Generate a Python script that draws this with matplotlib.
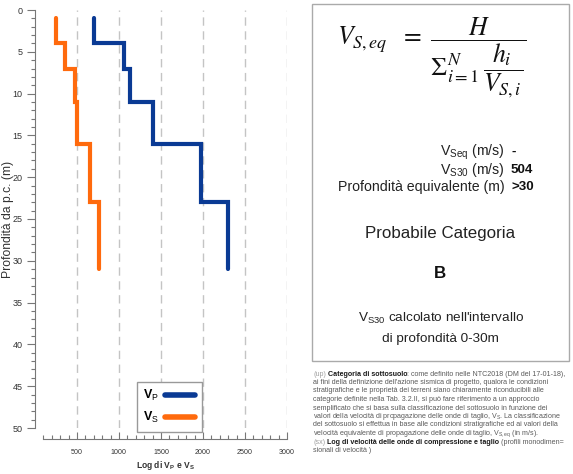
import numpy as np
import matplotlib
matplotlib.use('Agg')
import matplotlib.pyplot as plt
from matplotlib import font_manager as fm
from matplotlib.ticker import FixedLocator
from matplotlib.lines import Line2D
from matplotlib.patches import Rectangle

# ---------------- data ----------------
layer_top = [1, 4, 7, 11, 16, 23]
layer_bottom = [4, 7, 11, 16, 23, 31]
vp_values = [700, 1065, 1125, 1410, 1980, 2295]
vs_values = [255, 355, 475, 505, 660, 760]
x_major_ticks = [500, 1000, 1500, 2000, 2500, 3000]
x_minor_ticks = list(range(100, 3001, 100))
y_major_ticks = [0, 5, 10, 15, 20, 25, 30, 35, 40, 45, 50]
y_minor_ticks = list(range(0, 51, 1))
vseq_value = '-'
vs30_value = '504'
depth_eq_value = '>30'
category = 'B'

# ---------------- fonts ----------------
names = {f.name for f in fm.fontManager.ttflist}
if 'Liberation Sans Narrow' in names:
    FONT = 'Liberation Sans Narrow'
else:
    FONT = 'Liberation Sans'
plt.rcParams['font.family'] = [FONT, 'DejaVu Sans']
plt.rcParams['mathtext.fontset'] = 'custom'
plt.rcParams['mathtext.rm'] = FONT
plt.rcParams['mathtext.it'] = FONT + ':italic'
plt.rcParams['mathtext.bf'] = FONT + ':bold'

W, H = 573, 474
fig = plt.figure(figsize=(W / 100, H / 100), dpi=100)
renderer = fig.canvas.get_renderer()


def fx(x):
    return x / W


def fy(y):
    return 1 - y / H


def measure(s, size, **kw):
    t = fig.text(0, 0, s, fontsize=size, **kw)
    w = t.get_window_extent(renderer).width
    t.remove()
    return w


def fit_size(s, target, base=10, **kw):
    return base * target / measure(s, base, **kw)


# ---------------- left axes ----------------
ax = fig.add_axes([fx(35), fy(428), (287 - 35) / W, (428 - 10) / H])
ax.set_xlim(0, 3000)
ax.set_ylim(50, 0)

blue = '#0a3a94'
orange = '#ff6a0d'


def step_path(tops, bottoms, vals):
    xs, ys = [], []
    for t, b, v in zip(tops, bottoms, vals):
        xs += [v, v]
        ys += [t, b]
    return xs, ys


for vals, col in ((vp_values, blue), (vs_values, orange)):
    xs, ys = step_path(layer_top, layer_bottom, vals)
    ax.plot(xs, ys, color=col, lw=3.0, solid_capstyle='round',
            solid_joinstyle='miter', zorder=3)

ax.xaxis.set_major_locator(FixedLocator(x_major_ticks))
ax.xaxis.set_minor_locator(FixedLocator(x_minor_ticks))
ax.yaxis.set_major_locator(FixedLocator(y_major_ticks))
ax.yaxis.set_minor_locator(FixedLocator(y_minor_ticks))

ax.grid(axis='x', which='major', color='#c4c4c4', lw=1.0, ls=(0, (6, 4)))
ax.set_axisbelow(True)

for sp in ('top', 'right'):
    ax.spines[sp].set_visible(False)
ax.spines['left'].set_bounds(0, 50)
ax.spines['left'].set_color('#777777')
ax.spines['bottom'].set_position(('outward', 8))
ax.spines['bottom'].set_bounds(100, 3000)
ax.spines['bottom'].set_color('#777777')

xt_size = fit_size('1000', 16)
yt_size = fit_size('50', 10)
ax.tick_params(axis='x', which='major', direction='in', length=5, width=0.8,
               color='#777777', labelsize=xt_size, labelcolor='#333333', pad=7)
ax.tick_params(axis='x', which='minor', direction='in', length=3, width=0.8,
               color='#777777')
ax.tick_params(axis='y', which='major', direction='out', length=6, width=0.8,
               color='#777777', labelsize=yt_size, labelcolor='#333333', pad=3)
ax.tick_params(axis='y', which='minor', direction='out', length=3, width=0.8,
               color='#777777')

# axis labels
fig.text(fx(165), fy(465), r'Log di V$_\mathregular{P}$ e V$_\mathregular{S}$',
         ha='center', va='center', fontsize=fit_size('Log di VP e VS', 60, weight='bold'),
         fontweight='bold', color='#333333')
fig.text(fx(14), fy(219), 'Profondità da p.c. (m)', rotation=90, ha='right',
         va='center', fontsize=fit_size('Profondità da p.c. (m)', 117), color='#333333')

# legend
handles = [Line2D([0], [0], color=blue, lw=4, solid_capstyle='round'),
           Line2D([0], [0], color=orange, lw=4, solid_capstyle='round')]
leg = ax.legend(handles, [r'$\mathbf{V}_\mathregular{P}$', r'$\mathbf{V}_\mathregular{S}$'],
                loc='upper left', bbox_to_anchor=(fx(137), fy(382)),
                bbox_transform=fig.transFigure, borderaxespad=0, markerfirst=False,
                fancybox=False, edgecolor='#999999', framealpha=1, fontsize=9,
                handlelength=2.4, handletextpad=0.5, labelspacing=0.55,
                borderpad=0.5)
leg.get_frame().set_linewidth(1.0)

# ---------------- right panel ----------------
fig.patches.append(Rectangle((fx(312), fy(361)), (569 - 312) / W, (361 - 4) / H,
                             transform=fig.transFigure, fill=False,
                             edgecolor='#aaaaaa', lw=1.0))

formula = r'$V_{S,eq}\ \ =\ \dfrac{H}{\Sigma_{i=1}^{N}\,\dfrac{h_i}{V_{S,i}}}$'
fig.text(fx(432), fy(58), formula, ha='center', va='center', fontsize=18.5,
         math_fontfamily='stix', color='#111111')

lab_size = fit_size('Profondità equivalente (m)', 166)
val_size = lab_size * 0.95
fig.text(fx(505), fy(152), r'V$_\mathregular{Seq}$ (m/s)', ha='right', va='center',
         fontsize=lab_size, color='#222222')
fig.text(fx(505), fy(170), r'V$_\mathregular{S30}$ (m/s)', ha='right', va='center',
         fontsize=lab_size, color='#222222')
fig.text(fx(505), fy(187), 'Profondità equivalente (m)', ha='right', va='center',
         fontsize=lab_size, color='#222222')
fig.text(fx(512), fy(152), vseq_value, ha='left', va='center', fontsize=val_size,
         fontweight='bold', color='#111111')
fig.text(fx(511), fy(170), vs30_value, ha='left', va='center', fontsize=val_size,
         fontweight='bold', color='#111111')
fig.text(fx(511), fy(187), depth_eq_value, ha='left', va='center', fontsize=val_size,
         fontweight='bold', color='#111111')

fig.text(fx(440), fy(234), 'Probabile Categoria', ha='center', va='center',
         fontsize=fit_size('Probabile Categoria', 150), color='#222222')
fig.text(fx(440), fy(274), category, ha='center', va='center',
         fontsize=fit_size('Probabile Categoria', 150) * 1.0, fontweight='bold',
         color='#111111')
vs30_size = fit_size("VS30 calcolato nell'intervallo", 172)
fig.text(fx(441), fy(318), r"V$_\mathregular{S30}$ calcolato nell'intervallo",
         ha='center', va='center', fontsize=vs30_size, color='#222222')
fig.text(fx(440), fy(339), 'di profondità 0-30m', ha='center', va='center',
         fontsize=vs30_size, color='#222222')

# ---------------- caption ----------------
GREY, LIGHT, DARK = '#5a5a5a', '#a0a0a0', '#1a1a1a'
caption = [
    [('(up) ', LIGHT, 'normal'), ('Categoria di sottosuolo', DARK, 'bold'),
     (': come definito nelle NTC2018 (DM del 17-01-18),', GREY, 'normal')],
    [("ai fini della definizione dell'azione sismica di progetto, qualora le condizioni", GREY, 'normal')],
    [('stratigrafiche e le proprietà dei terreni siano chiaramente riconducibili alle', GREY, 'normal')],
    [('categorie definite nella Tab. 3.2.II, si può fare riferimento a un approccio', GREY, 'normal')],
    [('semplificato che si basa sulla classificazione del sottosuolo in funzione dei', GREY, 'normal')],
    [('valori della velocità di propagazione delle onde di taglio, V$_\\mathregular{S}$. La classificazione', GREY, 'normal')],
    [('del sottosuolo si effettua in base alle condizioni stratigrafiche ed ai valori della', GREY, 'normal')],
    [('velocità equivalente di propagazione delle onde di taglio, V$_\\mathregular{S,eq}$ (in m/s).', GREY, 'normal')],
    [('(sx) ', LIGHT, 'normal'), ('Log di velocità delle onde di compressione e taglio', DARK, 'bold'),
     (' (profili monodimen=', GREY, 'normal')],
    [('sionali di velocità )', GREY, 'normal')],
]

sp_w10 = measure('x x', 10) - measure('xx', 10)


def line_width(segs, size):
    total = 0
    for s, c, wgt in segs:
        lead = len(s) - len(s.lstrip(' '))
        trail = len(s) - len(s.rstrip(' '))
        total += (lead + trail) * sp_w10 * size / 10
        if s.strip():
            total += measure(s.strip(), size, fontweight=wgt)
    return total


cap_size = 6 * 258 / line_width(caption[0], 6)
y0, dy = 374, 8.5
for i, segs in enumerate(caption):
    x = 313
    y = y0 + i * dy
    for s, c, wgt in segs:
        lead = len(s) - len(s.lstrip(' '))
        trail = len(s) - len(s.rstrip(' '))
        x += lead * sp_w10 * cap_size / 10
        if s.strip():
            t = fig.text(fx(x), fy(y), s.strip(), fontsize=cap_size, color=c,
                         fontweight=wgt, ha='left', va='center')
            x += t.get_window_extent(renderer).width
        x += trail * sp_w10 * cap_size / 10

fig.savefig('out.png', dpi=100)
